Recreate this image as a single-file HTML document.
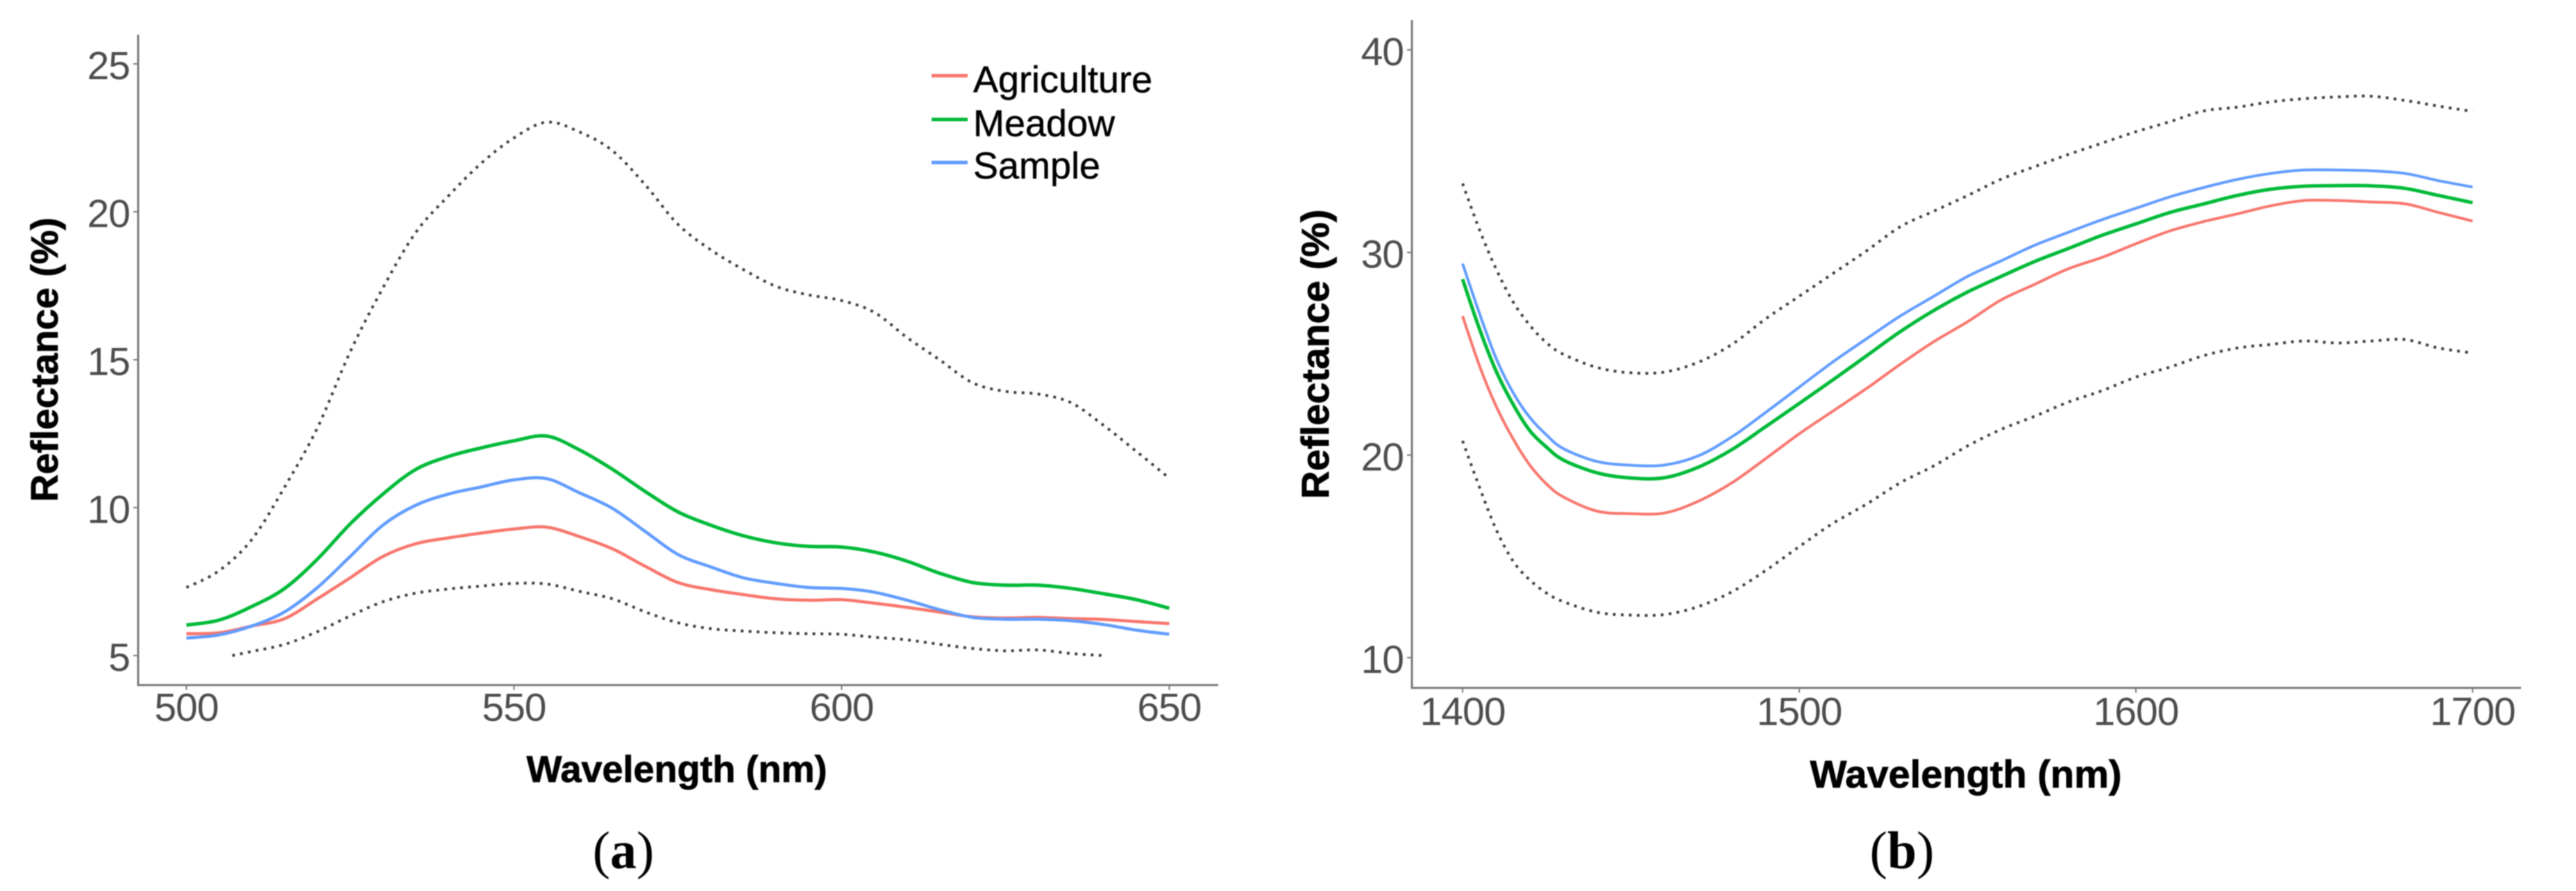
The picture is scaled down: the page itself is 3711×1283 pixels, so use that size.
<!DOCTYPE html>
<html lang="en">
<head>
<meta charset="utf-8">
<title>Reflectance spectra</title>
<style>
html,body{margin:0;padding:0;background:#fff;}
body{width:3711px;height:1283px;overflow:hidden;}
svg{display:block;filter:blur(0.7px);}
text{font-family:"Liberation Sans",sans-serif;}
.tick{font-size:57px;letter-spacing:-1px;fill:#4d4d4d;}
.title{font-weight:bold;fill:#000;stroke:#000;stroke-width:0.8px;}
.leg{font-size:54px;fill:#000;stroke:#000;stroke-width:0.5px;}
.cap{font-family:"Liberation Serif",serif;font-size:76px;fill:#000;}
</style>
</head>
<body>
<svg id="chart" xmlns="http://www.w3.org/2000/svg" width="3711" height="1283" viewBox="0 0 3711 1283">
  <rect x="0" y="0" width="3711" height="1283" fill="#fff"/>
  <g id="panelA"></g>
  <g id="panelB"></g>

  <text class="title" x="975" y="1126" font-size="54" text-anchor="middle">Wavelength (nm)</text>
  <text class="title" transform="translate(83,518) rotate(-90)" font-size="55" text-anchor="middle">Reflectance (%)</text>
  <text class="title" x="2832" y="1134" font-size="56" text-anchor="middle">Wavelength (nm)</text>
  <text class="title" transform="translate(1914,510) rotate(-90)" font-size="56" text-anchor="middle">Reflectance (%)</text>

  <g>
    <line x1="1342" x2="1394" y1="109" y2="109" stroke="#F8766D" stroke-width="5"/>
    <text class="leg" x="1402" y="133">Agriculture</text>
    <line x1="1342" x2="1394" y1="172" y2="172" stroke="#00BA38" stroke-width="5"/>
    <text class="leg" x="1402" y="196">Meadow</text>
    <line x1="1342" x2="1394" y1="234" y2="234" stroke="#619CFF" stroke-width="5"/>
    <text class="leg" x="1402" y="257">Sample</text>
  </g>

  <text class="cap" x="898" y="1250" text-anchor="middle">(<tspan font-weight="bold">a</tspan>)</text>
  <text class="cap" x="2740" y="1250" text-anchor="middle">(<tspan font-weight="bold">b</tspan>)</text>
</svg>

<script>
// ---- Panel (a) data ----
const wavelengthsA = [500,505,510,515,520,525,530,535,540,545,550,555,560,565,570,575,580,585,590,595,600,605,610,615,620,625,630,635,640,645,650];
const agricultureA = [5.74,5.77,6.0,6.25,6.92,7.63,8.35,8.78,8.98,9.14,9.28,9.34,9.02,8.61,8.02,7.47,7.23,7.06,6.92,6.87,6.89,6.77,6.63,6.47,6.31,6.27,6.29,6.25,6.22,6.15,6.08];
const meadowA = [6.03,6.2,6.66,7.27,8.26,9.45,10.46,11.29,11.73,12.02,12.26,12.42,11.95,11.3,10.55,9.86,9.41,9.05,8.81,8.69,8.67,8.5,8.19,7.78,7.47,7.38,7.38,7.27,7.09,6.89,6.6];
const sampleA = [5.59,5.7,6.0,6.48,7.3,8.35,9.41,10.08,10.46,10.7,10.94,10.98,10.5,9.98,9.2,8.42,8.0,7.63,7.44,7.3,7.27,7.14,6.87,6.55,6.29,6.23,6.23,6.18,6.05,5.86,5.72];
const upperA = [7.3,7.87,8.93,10.7,12.7,15.27,17.43,19.3,20.54,21.64,22.5,23.03,22.7,22.07,20.92,19.58,18.72,18.05,17.48,17.19,17.0,16.6,15.75,14.99,14.22,13.93,13.84,13.55,12.78,11.9,11.0];
const lowerWavelengthsA = [507,510,515,520,525,530,535,540,545,550,555,560,565,570,575,580,585,590,595,600,605,610,615,620,625,630,635,640];
const lowerA = [5.0,5.14,5.38,5.81,6.34,6.82,7.11,7.25,7.35,7.44,7.42,7.17,6.92,6.48,6.11,5.91,5.83,5.77,5.74,5.72,5.62,5.53,5.38,5.24,5.16,5.19,5.07,5.0];
const xTicksA = [500,550,600,650];
const yTicksA = [5,10,15,20,25];

// ---- Panel (b) data ----
const wavelengthsB = [1400,1405,1410,1415,1420,1425,1430,1440,1450,1460,1470,1480,1490,1500,1510,1520,1530,1540,1550,1560,1570,1580,1590,1600,1610,1620,1630,1640,1650,1660,1670,1680,1690,1700];
const agricultureB = [26.86,24.41,22.4,20.8,19.5,18.56,17.93,17.23,17.11,17.14,17.72,18.63,19.82,21.05,22.17,23.29,24.48,25.6,26.58,27.66,28.43,29.2,29.76,30.43,31.06,31.52,31.9,32.3,32.56,32.56,32.49,32.4,31.97,31.55];
const meadowB = [28.68,26.23,24.13,22.5,21.2,20.38,19.75,19.12,18.87,18.88,19.4,20.27,21.4,22.55,23.71,24.9,26.09,27.14,28.05,28.82,29.56,30.2,30.85,31.41,31.97,32.39,32.81,33.12,33.27,33.3,33.29,33.16,32.81,32.46];
const sampleB = [29.45,27.0,24.76,23.08,21.85,20.98,20.31,19.68,19.5,19.51,19.96,20.9,22.1,23.35,24.6,25.74,26.86,27.84,28.82,29.59,30.36,31.0,31.62,32.18,32.74,33.2,33.6,33.9,34.07,34.07,34.03,33.9,33.54,33.23];
const upperB = [33.4,31.13,29.17,27.56,26.4,25.53,24.97,24.32,24.06,24.1,24.58,25.46,26.72,27.84,28.96,30.08,31.27,32.04,32.81,33.62,34.24,34.84,35.4,35.96,36.45,36.98,37.17,37.43,37.59,37.68,37.71,37.5,37.22,36.96];
const lowerB = [20.7,18.42,16.32,14.76,13.83,13.18,12.76,12.24,12.1,12.13,12.52,13.25,14.3,15.48,16.63,17.58,18.63,19.47,20.45,21.27,21.92,22.62,23.18,23.85,24.34,24.9,25.28,25.46,25.63,25.53,25.63,25.7,25.28,25.04];
const xTicksB = [1400,1500,1600,1700];
const yTicksB = [10,20,30,40];

const SVG_NS = 'http://www.w3.org/2000/svg';
const COLORS = {agriculture:'#F8766D', meadow:'#00BA38', sample:'#619CFF', bound:'#3f3f3f'};

function linearScale(d0, d1, r0, r1) {
  return function (v) { return r0 + (v - d0) * (r1 - r0) / (d1 - d0); };
}

function smoothPath(xs, ys, xScale, yScale) {
  const p = xs.map(function (x, i) { return [xScale(x), yScale(ys[i])]; });
  let d = 'M' + p[0][0].toFixed(1) + ' ' + p[0][1].toFixed(1);
  for (let i = 0; i < p.length - 1; i++) {
    const a = p[Math.max(i - 1, 0)], b = p[i], c = p[i + 1], e = p[Math.min(i + 2, p.length - 1)];
    const c1x = b[0] + (c[0] - a[0]) / 6, c1y = b[1] + (c[1] - a[1]) / 6;
    const c2x = c[0] - (e[0] - b[0]) / 6, c2y = c[1] - (e[1] - b[1]) / 6;
    d += 'C' + c1x.toFixed(1) + ' ' + c1y.toFixed(1) + ' ' + c2x.toFixed(1) + ' ' + c2y.toFixed(1) + ' ' + c[0].toFixed(1) + ' ' + c[1].toFixed(1);
  }
  return d;
}

function drawSeries(group, name, xs, ys, xScale, yScale, color, width, dash) {
  const el = document.createElementNS(SVG_NS, 'path');
  
  
  el.setAttribute('d', smoothPath(xs, ys, xScale, yScale));
  el.setAttribute('fill', 'none');
  el.setAttribute('stroke', color);
  el.setAttribute('stroke-width', width);
  if (dash) {
    el.setAttribute('stroke-dasharray', dash);
  }
  el.setAttribute('stroke-linejoin', 'round');
  group.appendChild(el);
}

function drawAxes(group, prefix, cfg, xScale, yScale) {
  const axisColor = '#7a7a7a';
  const yAxis = document.createElementNS(SVG_NS, 'line');
  
  
  yAxis.setAttribute('x1', cfg.left);
  yAxis.setAttribute('x2', cfg.left);
  yAxis.setAttribute('y1', cfg.top);
  yAxis.setAttribute('y2', cfg.bottom + 1.5);
  yAxis.setAttribute('stroke', axisColor);
  yAxis.setAttribute('stroke-width', 3);
  group.appendChild(yAxis);

  const xAxis = document.createElementNS(SVG_NS, 'line');
  
  
  xAxis.setAttribute('x1', cfg.left);
  xAxis.setAttribute('x2', cfg.right);
  xAxis.setAttribute('y1', cfg.bottom);
  xAxis.setAttribute('y2', cfg.bottom);
  xAxis.setAttribute('stroke', axisColor);
  xAxis.setAttribute('stroke-width', 3);
  group.appendChild(xAxis);

  cfg.xTicks.forEach(function (t) {
    const tick = document.createElementNS(SVG_NS, 'line');
    
    
    tick.setAttribute('x1', xScale(t));
    tick.setAttribute('x2', xScale(t));
    tick.setAttribute('y1', cfg.bottom);
    tick.setAttribute('y2', cfg.bottom + 7);
    tick.setAttribute('stroke', axisColor);
    tick.setAttribute('stroke-width', 2);
    group.appendChild(tick);

    const label = document.createElementNS(SVG_NS, 'text');
    
    
    label.setAttribute('class', 'tick');
    label.setAttribute('x', xScale(t));
    label.setAttribute('y', cfg.xLabelBase);
    label.setAttribute('text-anchor', 'middle');
    label.textContent = String(t);
    group.appendChild(label);
  });

  cfg.yTicks.forEach(function (t) {
    const tick = document.createElementNS(SVG_NS, 'line');
    
    
    tick.setAttribute('x1', cfg.left - 7);
    tick.setAttribute('x2', cfg.left);
    tick.setAttribute('y1', yScale(t));
    tick.setAttribute('y2', yScale(t));
    tick.setAttribute('stroke', axisColor);
    tick.setAttribute('stroke-width', 2);
    group.appendChild(tick);

    const label = document.createElementNS(SVG_NS, 'text');
    
    
    label.setAttribute('class', 'tick');
    label.setAttribute('x', cfg.yLabelRight);
    label.setAttribute('y', yScale(t) + 22);
    label.setAttribute('text-anchor', 'end');
    label.textContent = String(t);
    group.appendChild(label);
  });
}

// Panel (a)
const gA = document.getElementById('panelA');
const xA = linearScale(500, 650, 268.5, 1684.4);
const yA = linearScale(5, 25, 944, 92);
drawAxes(gA, 'panel-a', {left:199, right:1755, top:50, bottom:986.5, xTicks:xTicksA, yTicks:yTicksA, xLabelBase:1038, yLabelRight:187}, xA, yA);
drawSeries(gA, 'panel-a-upper-bound', wavelengthsA, upperA, xA, yA, COLORS.bound, 4, '4 7.5');
drawSeries(gA, 'panel-a-lower-bound', lowerWavelengthsA, lowerA, xA, yA, COLORS.bound, 4, '4 7.5');
drawSeries(gA, 'panel-a-agriculture-line', wavelengthsA, agricultureA, xA, yA, COLORS.agriculture, 4.5);
drawSeries(gA, 'panel-a-meadow-line', wavelengthsA, meadowA, xA, yA, COLORS.meadow, 5);
drawSeries(gA, 'panel-a-sample-line', wavelengthsA, sampleA, xA, yA, COLORS.sample, 4.5);

// Panel (b)
const gB = document.getElementById('panelB');
const xB = linearScale(1400, 1700, 2107, 3562);
const yB = linearScale(10, 40, 947, 71.8);
drawAxes(gB, 'panel-b', {left:2034, right:3632, top:29, bottom:990.5, xTicks:xTicksB, yTicks:yTicksB, xLabelBase:1044, yLabelRight:2022}, xB, yB);
drawSeries(gB, 'panel-b-upper-bound', wavelengthsB, upperB, xB, yB, COLORS.bound, 4, '4 7.5');
drawSeries(gB, 'panel-b-lower-bound', wavelengthsB, lowerB, xB, yB, COLORS.bound, 4, '4 7.5');
drawSeries(gB, 'panel-b-agriculture-line', wavelengthsB, agricultureB, xB, yB, COLORS.agriculture, 4);
drawSeries(gB, 'panel-b-meadow-line', wavelengthsB, meadowB, xB, yB, COLORS.meadow, 5);
drawSeries(gB, 'panel-b-sample-line', wavelengthsB, sampleB, xB, yB, COLORS.sample, 4);
</script>
</body>
</html>
